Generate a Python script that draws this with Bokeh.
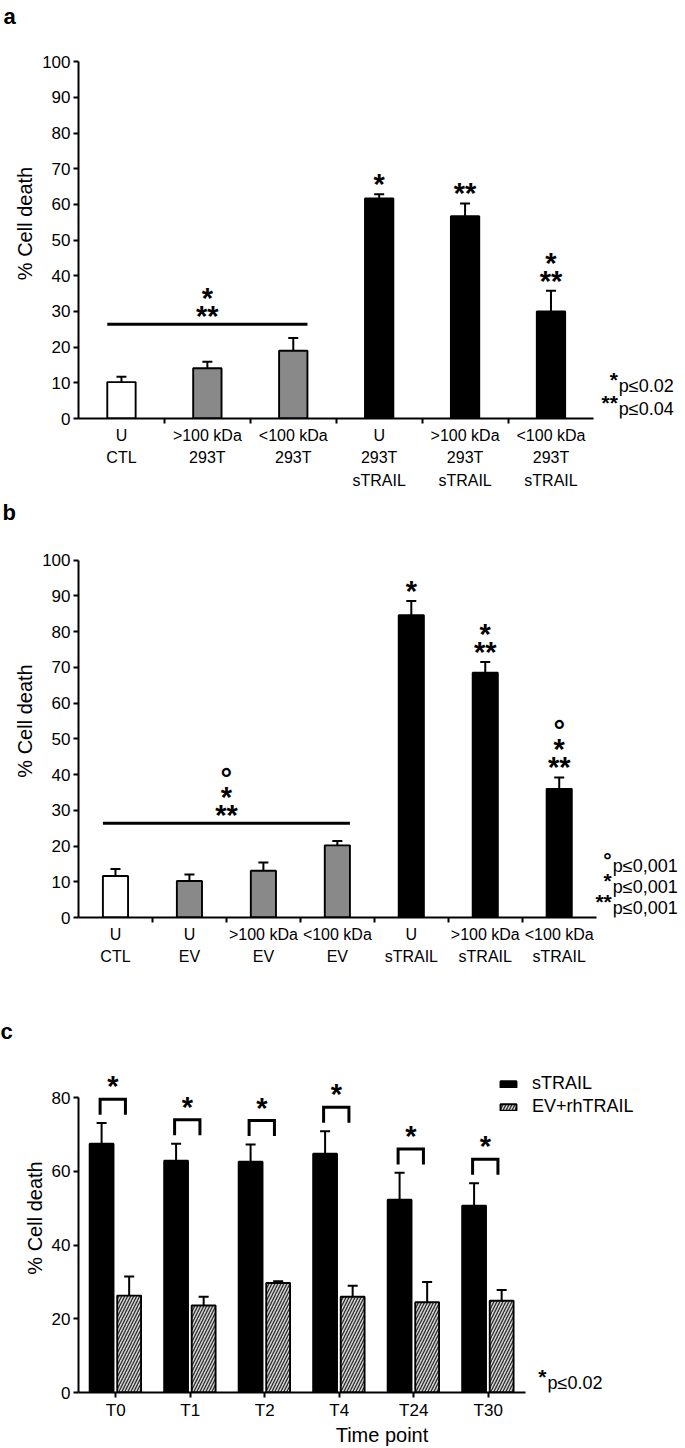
from bokeh.plotting import figure
from bokeh.layouts import column
from bokeh.models import (Range1d, FixedTicker, Whisker, TeeHead,
                          ColumnDataSource, Legend, LegendItem)
from bokeh.core.properties import value
from bokeh.embed import file_html
from bokeh.resources import INLINE

FONT = "Liberation Sans"
W = 685

# ---------------- panel a data ----------------
a_categories = ["U\nCTL", ">100 kDa\n293T", "<100 kDa\n293T",
                "U\n293T\nsTRAIL", ">100 kDa\n293T\nsTRAIL", "<100 kDa\n293T\nsTRAIL"]
a_values = [10.2, 14.1, 19.0, 61.7, 56.7, 30.0]
a_errors = [1.5, 1.8, 3.6, 1.2, 3.6, 5.8]
a_groups = ["control", "vesicles", "vesicles", "strail", "strail", "strail"]
a_bar_marks = ["", "", "", "*", "**", "*|**"]
a_bracket_bars = [0, 2]
a_bracket_level = 26.4
a_bracket_marks = "*|**"
a_pvalue_marks = ["*", "**"]
a_pvalue_texts = ["p≤0.02", "p≤0.04"]

# ---------------- panel b data ----------------
b_categories = ["U\nCTL", "U\nEV", ">100 kDa\nEV", "<100 kDa\nEV",
                "U\nsTRAIL", ">100 kDa\nsTRAIL", "<100 kDa\nsTRAIL"]
b_values = [11.6, 10.2, 13.1, 20.2, 84.6, 68.5, 36.0]
b_errors = [2.0, 1.8, 2.3, 1.2, 4.0, 3.0, 3.2]
b_groups = ["control", "vesicles", "vesicles", "vesicles", "strail", "strail", "strail"]
b_bar_marks = ["", "", "", "", "*", "*|**", "°|*|**"]
b_bracket_bars = [0, 3]
b_bracket_level = 26.4
b_bracket_marks = "°|*|**"
b_pvalue_marks = ["°", "*", "**"]
b_pvalue_texts = ["p≤0,001", "p≤0,001", "p≤0,001"]

# ---------------- panel c data ----------------
c_timepoints = ["T0", "T1", "T2", "T4", "T24", "T30"]
c_series = ["sTRAIL", "EV+rhTRAIL"]
c_strail = [67.5, 62.9, 62.6, 64.8, 52.3, 50.7]
c_strail_err = [5.6, 4.6, 4.7, 6.1, 7.3, 6.1]
c_ev = [26.3, 23.6, 29.7, 26.0, 24.5, 24.9]
c_ev_err = [5.2, 2.4, 0.5, 3.0, 5.5, 2.9]
c_pair_marks = ["*", "*", "*", "*", "*", "*"]
c_pvalue_marks = ["*"]
c_pvalue_texts = ["p≤0.02"]

GROUP_FILL = {"control": "white", "vesicles": "#898989", "strail": "black"}
STAR_SIZE = 29


def make_frame(letter, height, top, bl, bb, pxx, pxy, yticks, ymax):
    frame_w = W - bl
    frame_h = height - bb - top
    p = figure(width=W, height=height, title=letter,
               x_range=Range1d(0, frame_w / pxx), y_range=Range1d(0, frame_h / pxy),
               output_backend="svg", toolbar_location=None,
               min_border_left=bl, min_border_right=0, min_border_top=top,
               min_border_bottom=bb)
    p.title.align = "left"
    p.title.offset = -bl
    p.title.standoff = 0
    p.title.text_font = FONT
    p.title.text_font_size = "22px"
    p.title.text_font_style = "bold"
    p.title.text_color = "black"
    p.xgrid.visible = False
    p.ygrid.visible = False
    p.outline_line_color = None
    for ax in (p.xaxis[0], p.yaxis[0]):
        ax.axis_line_width = 2
        ax.axis_line_color = "black"
        ax.major_tick_line_width = 2
        ax.major_tick_line_color = "black"
        ax.minor_tick_line_width = 2
        ax.minor_tick_line_color = "black"
        ax.major_label_text_font = FONT
        ax.major_label_text_color = "black"
        ax.axis_label_text_font = FONT
        ax.axis_label_text_font_style = "normal"
        ax.axis_label_text_color = "black"
    y = p.yaxis[0]
    y.bounds = (0, ymax)
    y.ticker = FixedTicker(ticks=yticks)
    y.major_tick_in = 0
    y.major_tick_out = 5
    y.minor_tick_in = 0
    y.minor_tick_out = 0
    y.major_label_standoff = 3
    y.major_label_text_font_size = "17px"
    y.axis_label = "% Cell death"
    y.axis_label_text_font_size = "20px"
    y.axis_label_standoff = 3
    return p


def add_marks(p, xs, ys, texts, pxy, gap_px, step_px):
    mx, my, mt = [], [], []
    for x0, y0, m in zip(xs, ys, texts):
        if not m:
            continue
        parts = m.split("|")
        for k, t in enumerate(reversed(parts)):
            mx.append(x0)
            my.append(y0 + (gap_px + step_px * k) / pxy)
            mt.append(t)
    p.text(x=mx, y=my, text=mt, text_font=value(FONT), text_font_style="bold",
           text_font_size=f"{STAR_SIZE}px", text_align="center",
           text_baseline="alphabetic", y_offset=4, text_color="black")


def add_pvalues(p, marks, texts, px_x, pxy, bottom_px, pitch_px):
    n = len(marks)
    yc = [(bottom_px + pitch_px * (n - 1 - k)) / pxy for k in range(n)]
    xx = [px_x] * n
    p.text(x=xx, y=[v + 8 / pxy for v in yc], text=marks, text_font=value(FONT),
           text_font_style="bold", text_font_size="21px", text_align="right",
           text_baseline="alphabetic", y_offset=2, x_offset=-1, text_color="black")
    p.text(x=xx, y=yc, text=texts, text_font=value(FONT), text_font_size="18px",
           text_align="left", text_baseline="middle", text_color="black")


def bar_panel(letter, cats, vals, errs, groups, bar_marks, br_bars, br_level, br_marks,
              pv_marks, pv_texts, height, top, bl, bb, pxx, pxy, pv_x, pv_pitch, bar_w):
    n = len(cats)
    p = make_frame(letter, height, top, bl, bb, pxx, pxy, list(range(0, 101, 10)), 100)
    xs = [i + 0.5 for i in range(n)]
    upper = [v + e for v, e in zip(vals, errs)]
    src = ColumnDataSource(dict(x=xs, top=vals, upper=upper,
                                fill=[GROUP_FILL[g] for g in groups]))
    p.vbar(x="x", top="top", bottom=0, width=bar_w, source=src, fill_color="fill",
           line_color="black", line_width=1.9)
    p.add_layout(Whisker(base="x", lower="top", upper="upper", source=src,
                         line_width=2, line_color="black",
                         upper_head=TeeHead(size=10, line_width=2, line_color="black"),
                         lower_head=None))
    add_marks(p, xs, upper, bar_marks, pxy, 14, 18)
    x0 = xs[br_bars[0]] - bar_w / 2
    x1 = xs[br_bars[1]] + bar_w / 2
    p.line(x=[x0, x1], y=[br_level, br_level], line_width=3, line_color="black")
    add_marks(p, [(x0 + x1) / 2], [br_level], [br_marks], pxy, 12, 18)
    add_pvalues(p, pv_marks, pv_texts, pv_x, pxy, 10, pv_pitch)

    xa = p.xaxis[0]
    xa.bounds = (0, n)
    xa.ticker = FixedTicker(ticks=xs, minor_ticks=list(range(1, n)))
    xa.major_tick_in = 0
    xa.major_tick_out = 0
    xa.minor_tick_in = 0
    xa.minor_tick_out = 5
    xa.major_label_overrides = {x: c for x, c in zip(xs, cats)}
    xa.major_label_standoff = 3
    xa.major_label_text_font_size = "16px"
    xa.major_label_text_line_height = 1.35
    return p


pa = bar_panel("a", a_categories, a_values, a_errors, a_groups, a_bar_marks,
               a_bracket_bars, a_bracket_level, a_bracket_marks,
               a_pvalue_marks, a_pvalue_texts,
               height=496, top=28, bl=75, bb=78, pxx=86.33, pxy=3.567,
               pv_x=(618 - 75) / 86.33, pv_pitch=23, bar_w=0.33)

pb = bar_panel("b", b_categories, b_values, b_errors, b_groups, b_bar_marks,
               b_bracket_bars, b_bracket_level, b_bracket_marks,
               b_pvalue_marks, b_pvalue_texts,
               height=492, top=28, bl=76, bb=71, pxx=74.2, pxy=3.573,
               pv_x=(612 - 76) / 74.2, pv_pitch=21, bar_w=0.34)

# ---------------- panel c ----------------
PXX_C, PXY_C, BL_C = 74.5, 3.717, 78
pc = make_frame("c", 460, 55, BL_C, 53, PXX_C, PXY_C, [0, 20, 40, 60, 80], 80)
cx = [i + 0.5 for i in range(len(c_timepoints))]
BW_C = 0.32
sx = [x - 0.19 for x in cx]
hx = [x + 0.18 for x in cx]
src_s = ColumnDataSource(dict(x=sx, top=c_strail,
                              upper=[v + e for v, e in zip(c_strail, c_strail_err)]))
src_h = ColumnDataSource(dict(x=hx, top=c_ev,
                              upper=[v + e for v, e in zip(c_ev, c_ev_err)]))
r_s = pc.vbar(x="x", top="top", bottom=0, width=BW_C, source=src_s, fill_color="black",
              line_color="black", line_width=1.9)
r_h = pc.vbar(x="x", top="top", bottom=0, width=BW_C, source=src_h, fill_color="#d4d4d4",
              hatch_pattern="/", hatch_color="#2e2e2e", hatch_scale=6, hatch_weight=1.3,
              line_color="black", line_width=1.9)
for src in (src_s, src_h):
    pc.add_layout(Whisker(base="x", lower="top", upper="upper", source=src,
                          line_width=2, line_color="black",
                          upper_head=TeeHead(size=10, line_width=2, line_color="black"),
                          lower_head=None))
tops = [v + e + 6.5 for v, e in zip(c_strail, c_strail_err)]
bx, by = [], []
for x, t in zip(cx, tops):
    xl, xr = x - 0.21, x + 0.13
    bx.append([xl, xl, xr, xr])
    by.append([t - 4.2, t, t, t - 4.2])
pc.multi_line(xs=bx, ys=by, line_width=3, line_color="black", line_join="miter")
add_marks(pc, [x - 0.04 for x in cx], tops, c_pair_marks, PXY_C, 17, 18)
add_pvalues(pc, c_pvalue_marks, c_pvalue_texts, (547 - 78) / PXX_C, PXY_C, 10, 22)

legend = Legend(items=[LegendItem(label=c_series[0], renderers=[r_s]),
                       LegendItem(label=c_series[1], renderers=[r_h])],
                location=(498 - BL_C, 275), border_line_color=None,
                background_fill_alpha=0, padding=0, margin=0, spacing=2,
                glyph_width=20, glyph_height=8, label_standoff=14,
                label_text_font=FONT, label_text_font_size="18px", label_height=20,
                label_text_color="black")
pc.add_layout(legend)

xa = pc.xaxis[0]
xa.bounds = (0, len(c_timepoints))
xa.ticker = FixedTicker(ticks=cx)
xa.major_tick_in = 0
xa.major_tick_out = 5
xa.minor_tick_in = 0
xa.minor_tick_out = 0
xa.major_label_overrides = {x: t for x, t in zip(cx, c_timepoints)}
xa.major_label_standoff = 3
xa.major_label_text_font_size = "17px"
xa.axis_label = "Time point"
xa.axis_label_text_font_size = "20px"
xa.axis_label_standoff = 1

layout = column(pa, pb, pc, spacing=0)
open("out.html", "w").write(file_html(layout, INLINE))
